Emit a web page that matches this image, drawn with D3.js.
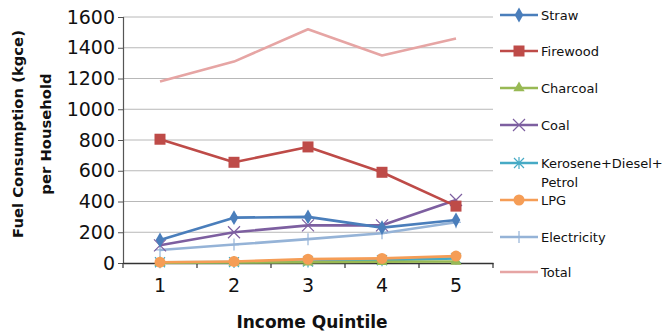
<!DOCTYPE html>
<html><head><meta charset="utf-8">
<script src="https://cdn.jsdelivr.net/npm/d3@7"></script>
<style>body{margin:0;background:#fff}svg{display:block}text{font-family:"DejaVu Sans",sans-serif}</style>
</head><body><svg id="c" width="672" height="336"></svg>
<script>
const categories = ["1","2","3","4","5"];
const yTicks = [0,200,400,600,800,1000,1200,1400,1600];
const straw = [150,295,300,230,280];
const firewood = [805,655,755,590,370];
const charcoal = [2,3,5,8,10];
const coal = [115,200,245,245,410];
const kerosene = [5,6,10,18,30];
const lpg = [5,10,25,30,45];
const electricity = [85,120,155,193,265];
const total = [1180,1310,1520,1350,1460];
const seriesNames = ["Straw","Firewood","Charcoal","Coal","Kerosene+Diesel+\nPetrol","LPG","Electricity","Total"];
const seriesValues = [straw,firewood,charcoal,coal,kerosene,lpg,electricity,total];
const colors = ["#4a7ebb","#be4b48","#98b954","#7d5fa0","#46aac5","#f59d56","#95b3d7","#e6a5a4"];
const markers = ["diamond","square","triangle","x","star","circle","plus","none"];

const svg = d3.select("#c");
const L=123,R=493,T=17,B=263;
const x = d3.scaleBand().domain(categories).range([L,R]).padding(0);
const y = d3.scaleLinear().domain([0,1600]).range([B,T]);

// grid
svg.append("g").selectAll("line").data(yTicks.filter(d=>d>0)).join("line")
  .attr("x1",L).attr("x2",R).attr("y1",d=>y(d)).attr("y2",d=>y(d))
  .attr("stroke","#b8b8b8").attr("stroke-width",1);

// y axis
const ya = svg.append("g").attr("transform",`translate(${L},0)`)
  .call(d3.axisLeft(y).tickValues(yTicks).tickFormat(d3.format("d")).tickSize(5).tickPadding(3));
ya.select(".domain").attr("stroke","#555").attr("stroke-width",1.2);
ya.selectAll(".tick line").attr("stroke","#555");
ya.selectAll("text").style("font-size","19px").attr("fill","#111");

// x axis
const xa = svg.append("g").attr("transform",`translate(0,${B})`)
  .call(d3.axisBottom(x).tickSize(0).tickPadding(16));
xa.select(".domain").attr("stroke","#333").attr("stroke-width",1.6);
xa.selectAll("text").style("font-size","19px").attr("fill","#111");
const bounds = categories.map(c=>x(c)).concat([x(categories[4])+x.bandwidth()]);
svg.append("g").selectAll("line").data(bounds).join("line")
  .attr("x1",d=>d).attr("x2",d=>d).attr("y1",B).attr("y2",B+5)
  .attr("stroke","#333").attr("stroke-width",1.2);

// titles
svg.append("text").attr("x",312).attr("y",328).attr("text-anchor","middle")
  .style("font-size","17px").style("font-weight","bold").attr("fill","#111").text("Income Quintile");
const yt = svg.append("text").attr("transform","translate(0,134) rotate(-90)")
  .attr("text-anchor","middle").style("font-size","14.8px").style("font-weight","bold").attr("fill","#111");
yt.append("tspan").attr("x",0).attr("y",23).text("Fuel Consumption (kgce)");
yt.append("tspan").attr("x",0).attr("y",51).text("per Household");

const cx = i => x(categories[i]) + x.bandwidth()/2;
function drawMarker(g, type, px, py, col){
  if(type==="diamond") g.append("path").attr("d",d3.symbol(d3.symbolDiamond,64)()).attr("transform",`translate(${px},${py})`).attr("fill",col);
  else if(type==="square") g.append("rect").attr("x",px-5.5).attr("y",py-5.5).attr("width",11).attr("height",11).attr("fill",col);
  else if(type==="triangle") g.append("path").attr("d",d3.symbol(d3.symbolTriangle,55)()).attr("transform",`translate(${px},${py})`).attr("fill",col);
  else if(type==="circle") g.append("circle").attr("cx",px).attr("cy",py).attr("r",5.5).attr("fill",col);
  else if(type==="x") g.append("path").attr("d",`M${px-6},${py-6}L${px+6},${py+6}M${px-6},${py+6}L${px+6},${py-6}`).attr("stroke",col).attr("stroke-width",1.2);
  else if(type==="plus") g.append("path").attr("d",`M${px-5},${py}L${px+5},${py}M${px},${py-6}L${px},${py+6}`).attr("stroke",col).attr("stroke-width",1.2);
  else if(type==="star") g.append("path").attr("d",`M${px-5},${py-5}L${px+5},${py+5}M${px-5},${py+5}L${px+5},${py-5}M${px},${py-6}L${px},${py+6}`).attr("stroke",col).attr("stroke-width",1.2);
}
const line = d3.line().x((d,i)=>cx(i)).y(d=>y(d));
const order = [7,6,4,2,5,3,0,1];
order.forEach(k=>{
  const g = svg.append("g");
  g.append("path").datum(seriesValues[k]).attr("d",line).attr("fill","none")
    .attr("stroke",colors[k]).attr("stroke-width",2.6).attr("stroke-linejoin","round");
  seriesValues[k].forEach((v,i)=>drawMarker(g,markers[k],cx(i),y(v),colors[k]));
});

// legend
const legY = [15,51,88,125,163,200,237,272];
seriesNames.forEach((n,k)=>{
  const g = svg.append("g");
  const ly = legY[k];
  g.append("line").attr("x1",500).attr("x2",538).attr("y1",ly).attr("y2",ly).attr("stroke",colors[k]).attr("stroke-width",2.6);
  drawMarker(g,markers[k],519,ly,colors[k]);
  const t = g.append("text").attr("x",541).attr("y",ly+5).style("font-size","13px").attr("fill","#111");
  n.split("\n").forEach((s,j)=>t.append("tspan").attr("x",541).attr("dy",j?19:0).text(s));
});
</script></body></html>
